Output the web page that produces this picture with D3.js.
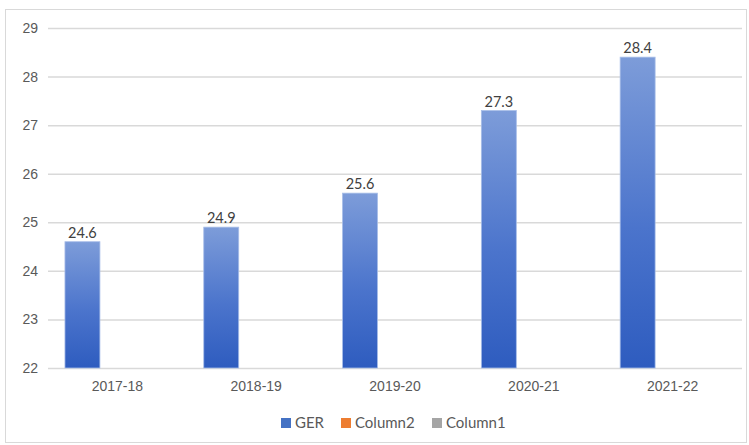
<!DOCTYPE html>
<html>
<head>
<meta charset="utf-8">
<script src="https://cdn.jsdelivr.net/npm/d3@7"></script>
<style>
  html, body { margin: 0; padding: 0; background: #fff; }
  svg { display: block; font-family: Lato, "Open Sans", sans-serif; }
</style>
</head>
<body>
<svg id="chart" width="749" height="445"></svg>
<script>
// Gross enrolment ratio by academic year
const categories = ["2017-18", "2018-19", "2019-20", "2020-21", "2021-22"];
const seriesNames = ["GER", "Column2", "Column1"];
const gerValues = [24.6, 24.9, 25.6, 27.3, 28.4];
const column2Values = [null, null, null, null, null];
const column1Values = [null, null, null, null, null];
const yTicks = [22, 23, 24, 25, 26, 27, 28, 29];
const seriesColors = ["#4472c4", "#ed7d31", "#a5a5a5"];

const svg = d3.select("#chart");
const W = 749, H = 445;
const margin = { left: 48, right: 7, top: 28, bottom: 77 };

// chart frame
svg.append("rect")
  .attr("x", 5.5).attr("y", 9.5)
  .attr("width", W - 8).attr("height", H - 12)
  .attr("fill", "#fff").attr("stroke", "#d9d9d9");

const x = d3.scaleBand()
  .domain(categories)
  .range([margin.left, W - margin.right]);

const x1 = d3.scaleBand()
  .domain(seriesNames)
  .range([0, x.bandwidth()])
  .paddingOuter(0.485)
  .paddingInner(0);

const y = d3.scaleLinear()
  .domain([22, 29])
  .range([H - margin.bottom, margin.top]);

const defs = svg.append("defs");
const grad = defs.append("linearGradient")
  .attr("id", "barGrad")
  .attr("x1", 0).attr("y1", 0).attr("x2", 0).attr("y2", 1);
grad.append("stop").attr("offset", "0%").attr("stop-color", "#7d9cd9");
grad.append("stop").attr("offset", "55%").attr("stop-color", "#4b74cc");
grad.append("stop").attr("offset", "100%").attr("stop-color", "#2e5cbf");

// horizontal gridlines
const yAxis = d3.axisLeft(y).tickValues(yTicks).tickSize(-(W - margin.left - margin.right)).tickPadding(10).tickFormat(d3.format("d"));
const gy = svg.append("g")
  .attr("transform", `translate(${margin.left},0)`)
  .call(yAxis);
gy.select(".domain").remove();
gy.selectAll(".tick line").attr("stroke", "#d9d9d9").attr("stroke-width", 1.5);
gy.selectAll(".tick text").attr("fill", "#595959").style("font-size", "14px");

// category axis labels
const xAxis = d3.axisBottom(x).tickSize(0).tickPadding(13);
const gx = svg.append("g")
  .attr("transform", `translate(0,${H - margin.bottom})`)
  .call(xAxis);
gx.select(".domain").remove();
gx.selectAll(".tick text").attr("fill", "#595959").style("font-size", "14px");

// GER bars
const bars = svg.append("g");
bars.selectAll("rect")
  .data(gerValues)
  .join("rect")
  .attr("x", (d, i) => x(categories[i]) + x1("GER"))
  .attr("y", d => y(d))
  .attr("width", x1.bandwidth())
  .attr("height", d => y(22) - y(d))
  .attr("fill", "url(#barGrad)")
  .attr("stroke", "#a7bde8")
  .attr("stroke-width", 0.8);

// value labels
svg.append("g").selectAll("text")
  .data(gerValues)
  .join("text")
  .attr("x", (d, i) => x(categories[i]) + x1("GER") + x1.bandwidth() / 2)
  .attr("y", d => y(d) - 4)
  .attr("text-anchor", "middle")
  .attr("fill", "#404040")
  .style("font-size", "14.5px")
  .text(d => d.toFixed(1));

// legend
const legendItems = [
  { name: "GER", color: seriesColors[0], x: 281 },
  { name: "Column2", color: seriesColors[1], x: 341 },
  { name: "Column1", color: seriesColors[2], x: 432 }
];
const lg = svg.append("g");
legendItems.forEach(it => {
  lg.append("rect")
    .attr("x", it.x).attr("y", 418)
    .attr("width", 10).attr("height", 10)
    .attr("fill", it.color);
  lg.append("text")
    .attr("x", it.x + 14).attr("y", 428)
    .attr("fill", "#595959")
    .style("font-size", "15px")
    .text(it.name);
});
</script>
</body>
</html>
